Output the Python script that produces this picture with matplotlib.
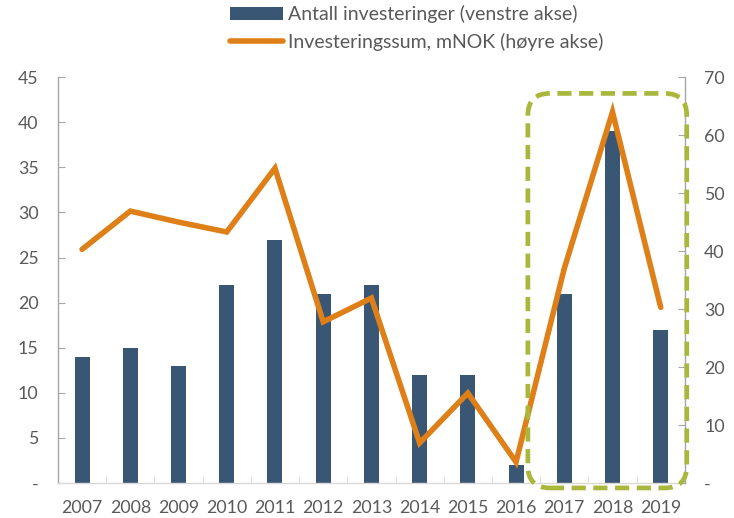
import matplotlib.pyplot as plt
import numpy as np
from matplotlib.patches import FancyBboxPatch, Patch
from matplotlib.lines import Line2D

plt.rcParams['font.family'] = ['Lato', 'DejaVu Sans']

years = ['2007', '2008', '2009', '2010', '2011', '2012', '2013',
         '2014', '2015', '2016', '2017', '2018', '2019']
antall = [14, 15, 13, 22, 27, 21, 22, 12, 12, 2, 21, 39, 17]
sum_mnok = [40.3, 46.9, 45.0, 43.3, 54.3, 27.8, 31.9, 6.9, 15.5, 3.6, 37.0, 64.0, 30.3]
left_ticks = [0, 5, 10, 15, 20, 25, 30, 35, 40, 45]
right_ticks = [0, 10, 20, 30, 40, 50, 60, 70]

bar_col = '#3A5675'
line_col = '#DE7F17'
grey = '#595959'
spine_col = '#A6A6A6'

fig = plt.figure(figsize=(7.34, 5.18), dpi=100)
ax = fig.add_axes([0.079, 0.0676, 0.854, 0.7834])
ax2 = ax.twinx()

x = np.arange(len(years))
ax.bar(x, antall, width=0.31, color=bar_col, zorder=2)
ax2.plot(x, sum_mnok, color=line_col, lw=4.0, solid_capstyle='round',
         solid_joinstyle='miter', zorder=3)

ax.set_xlim(-0.5, len(years) - 0.5)
ax.set_ylim(0, 45)
ax2.set_ylim(0, 70)
ax.set_yticks(left_ticks)
ax.set_yticklabels(['-'] + [str(v) for v in left_ticks[1:]])
ax2.set_yticks(right_ticks)
ax2.set_yticklabels(['-'] + [str(v) for v in right_ticks[1:]])
ax.set_xticks(x)
ax.set_xticklabels(years)
ax.set_xticks(np.arange(len(years) + 1) - 0.5, minor=True)

for a in (ax, ax2):
    a.spines['top'].set_visible(False)
    for s in ('left', 'right', 'bottom'):
        a.spines[s].set_color(spine_col)
        a.spines[s].set_linewidth(1.0)
    a.tick_params(colors=spine_col, labelcolor=grey, labelsize=12.8,
                  direction='in', length=5)
ax.tick_params(axis='y', pad=14)
ax2.tick_params(axis='y', pad=14)
ax.tick_params(axis='x', which='major', length=0, pad=12)
ax.tick_params(axis='x', which='minor', length=5, color='#D9D9D9', direction='in')
ax.spines['bottom'].set_color('#D9D9D9')
ax.spines['right'].set_visible(False)
ax2.spines['left'].set_visible(False)
ax2.spines['bottom'].set_visible(False)

# rounded dashed frame around the last three years
fig.canvas.draw()
inv = fig.transFigure.inverted()
p0 = inv.transform(ax.transData.transform((9.245, -0.55)))
p1 = inv.transform(ax.transData.transform((12.54, 43.2)))
W, H = fig.get_size_inches() * fig.dpi
box = FancyBboxPatch((p0[0], p0[1]), p1[0] - p0[0], p1[1] - p0[1],
                     boxstyle='round,pad=0,rounding_size=%f' % (22 / W),
                     mutation_aspect=W / H, transform=fig.transFigure,
                     fill=False, edgecolor='#A9B83D', lw=3.4,
                     linestyle=(0, (3.0, 1.6)), zorder=10)
fig.add_artist(box)

handles = [Patch(facecolor=bar_col, edgecolor='none'),
           Line2D([], [], color=line_col, lw=4.0, solid_capstyle='round')]
labels = ['Antall investeringer (venstre akse)',
          'Investeringssum, mNOK (høyre akse)']
fig.legend(handles, labels, loc='upper left', bbox_to_anchor=(0.313, 0.99),
           frameon=False, fontsize=14, labelcolor=grey, handlelength=2.75,
           handletextpad=0.25, labelspacing=0.5, borderpad=0, borderaxespad=0)

fig.savefig('out.png', dpi=100)
